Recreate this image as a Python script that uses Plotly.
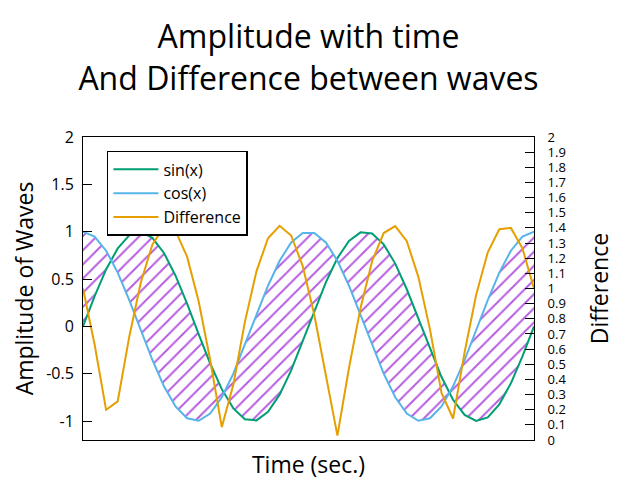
import plotly.graph_objects as go

# samples (40 points over two periods)
time = [0.0, 0.322, 0.644, 0.967, 1.289, 1.611, 1.933, 2.256, 2.578, 2.900,
        3.222, 3.544, 3.867, 4.189, 4.511, 4.833, 5.155, 5.478, 5.800, 6.122,
        6.444, 6.767, 7.089, 7.411, 7.733, 8.055, 8.378, 8.700, 9.022, 9.344,
        9.666, 9.989, 10.311, 10.633, 10.955, 11.278, 11.600, 11.922, 12.244, 12.566]

sin_vals = [0.0, 0.317, 0.601, 0.823, 0.961, 0.999, 0.935, 0.775, 0.535, 0.239,
            -0.081, -0.392, -0.663, -0.866, -0.980, -0.993, -0.903, -0.721, -0.465, -0.160,
            0.160, 0.465, 0.721, 0.903, 0.993, 0.980, 0.866, 0.663, 0.392, 0.081,
            -0.239, -0.535, -0.775, -0.935, -0.999, -0.961, -0.823, -0.601, -0.317, 0.0]

cos_vals = [1.0, 0.949, 0.799, 0.568, 0.278, -0.040, -0.355, -0.633, -0.845, -0.971,
            -0.997, -0.920, -0.749, -0.500, -0.200, 0.121, 0.429, 0.693, 0.886, 0.987,
            0.987, 0.886, 0.693, 0.429, 0.121, -0.200, -0.500, -0.749, -0.920, -0.997,
            -0.971, -0.845, -0.633, -0.355, -0.040, 0.278, 0.568, 0.799, 0.949, 1.0]

diff_vals = [1.0, 0.632, 0.199, 0.255, 0.682, 1.040, 1.290, 1.407, 1.380, 1.210,
             0.916, 0.528, 0.085, 0.366, 0.780, 1.113, 1.332, 1.414, 1.350, 1.148,
             0.827, 0.421, 0.029, 0.475, 0.872, 1.180, 1.366, 1.412, 1.312, 1.077,
             0.732, 0.311, 0.142, 0.580, 0.959, 1.239, 1.391, 1.400, 1.265, 1.0]

left_ticks = [2, 1.5, 1, 0.5, 0, -0.5, -1]
left_labels = ["2", "1.5", "1", "0.5", "0", "-0.5", "-1"]

FONT = "Open Sans"

fig = go.Figure()

# hatched area between the two waves
fig.add_trace(go.Scatter(x=time, y=sin_vals, mode="lines", line=dict(width=0),
                         showlegend=False, hoverinfo="skip"))
fig.add_trace(go.Scatter(x=time, y=cos_vals, mode="lines", line=dict(width=0),
                         fill="tonexty", fillcolor="rgba(0,0,0,0)",
                         fillpattern=dict(shape="/", fgcolor="#b65ce0", fgopacity=1,
                                          bgcolor="rgba(0,0,0,0)", size=10, solidity=0.2),
                         showlegend=False, hoverinfo="skip"))

fig.add_trace(go.Scatter(x=time, y=sin_vals, mode="lines", name="sin(x)",
                         line=dict(color="#009e73", width=2)))
fig.add_trace(go.Scatter(x=time, y=cos_vals, mode="lines", name="cos(x)",
                         line=dict(color="#56b4e9", width=2)))
fig.add_trace(go.Scatter(x=time, y=diff_vals, mode="lines", name="Difference",
                         line=dict(color="#e69f00", width=2), yaxis="y2"))

# page body adds an 8px offset, so the figure is sized 8px smaller
fig.update_layout(
    width=632, height=472,
    margin=dict(l=75, r=106, t=129, b=40, autoexpand=False),
    paper_bgcolor="white", plot_bgcolor="white",
    font=dict(family=FONT, size=16, color="black"),
    title=dict(text="Amplitude with time<br>And Difference between waves",
               xref="paper", x=0.5, xanchor="center", y=0.915, yanchor="top",
               font=dict(size=32, family=FONT)),
    xaxis=dict(range=[0, 12.566], showticklabels=False, ticks="", showgrid=False,
               zeroline=False, showline=True, linecolor="black", linewidth=1, mirror=True,
               automargin=False,
               title=dict(text="Time (sec.)", font=dict(size=23), standoff=18)),
    yaxis=dict(range=[-1.2, 2], tickvals=left_ticks, ticktext=left_labels,
               ticks="inside", ticklen=9, tickcolor="black", showgrid=False, zeroline=False,
               showline=True, linecolor="black", linewidth=1, ticklabelstandoff=5,
               automargin=False,
               title=dict(text="Amplitude of Waves", font=dict(size=23), standoff=20)),
    yaxis2=dict(range=[0, 2], dtick=0.1, overlaying="y", side="right",
                ticks="inside", ticklen=9, tickcolor="black", showgrid=False, zeroline=False,
                showline=True, linecolor="black", linewidth=1, ticklabelstandoff=10,
                tickfont=dict(size=13), automargin=False,
                title=dict(text="Difference", font=dict(size=23), standoff=26)),
    legend=dict(x=0.053, y=0.954, xanchor="left", yanchor="top", traceorder="normal",
                bordercolor="black", borderwidth=1.5, bgcolor="white",
                font=dict(size=16), tracegroupgap=0, itemwidth=45),
)

fig.write_html("out.html")
